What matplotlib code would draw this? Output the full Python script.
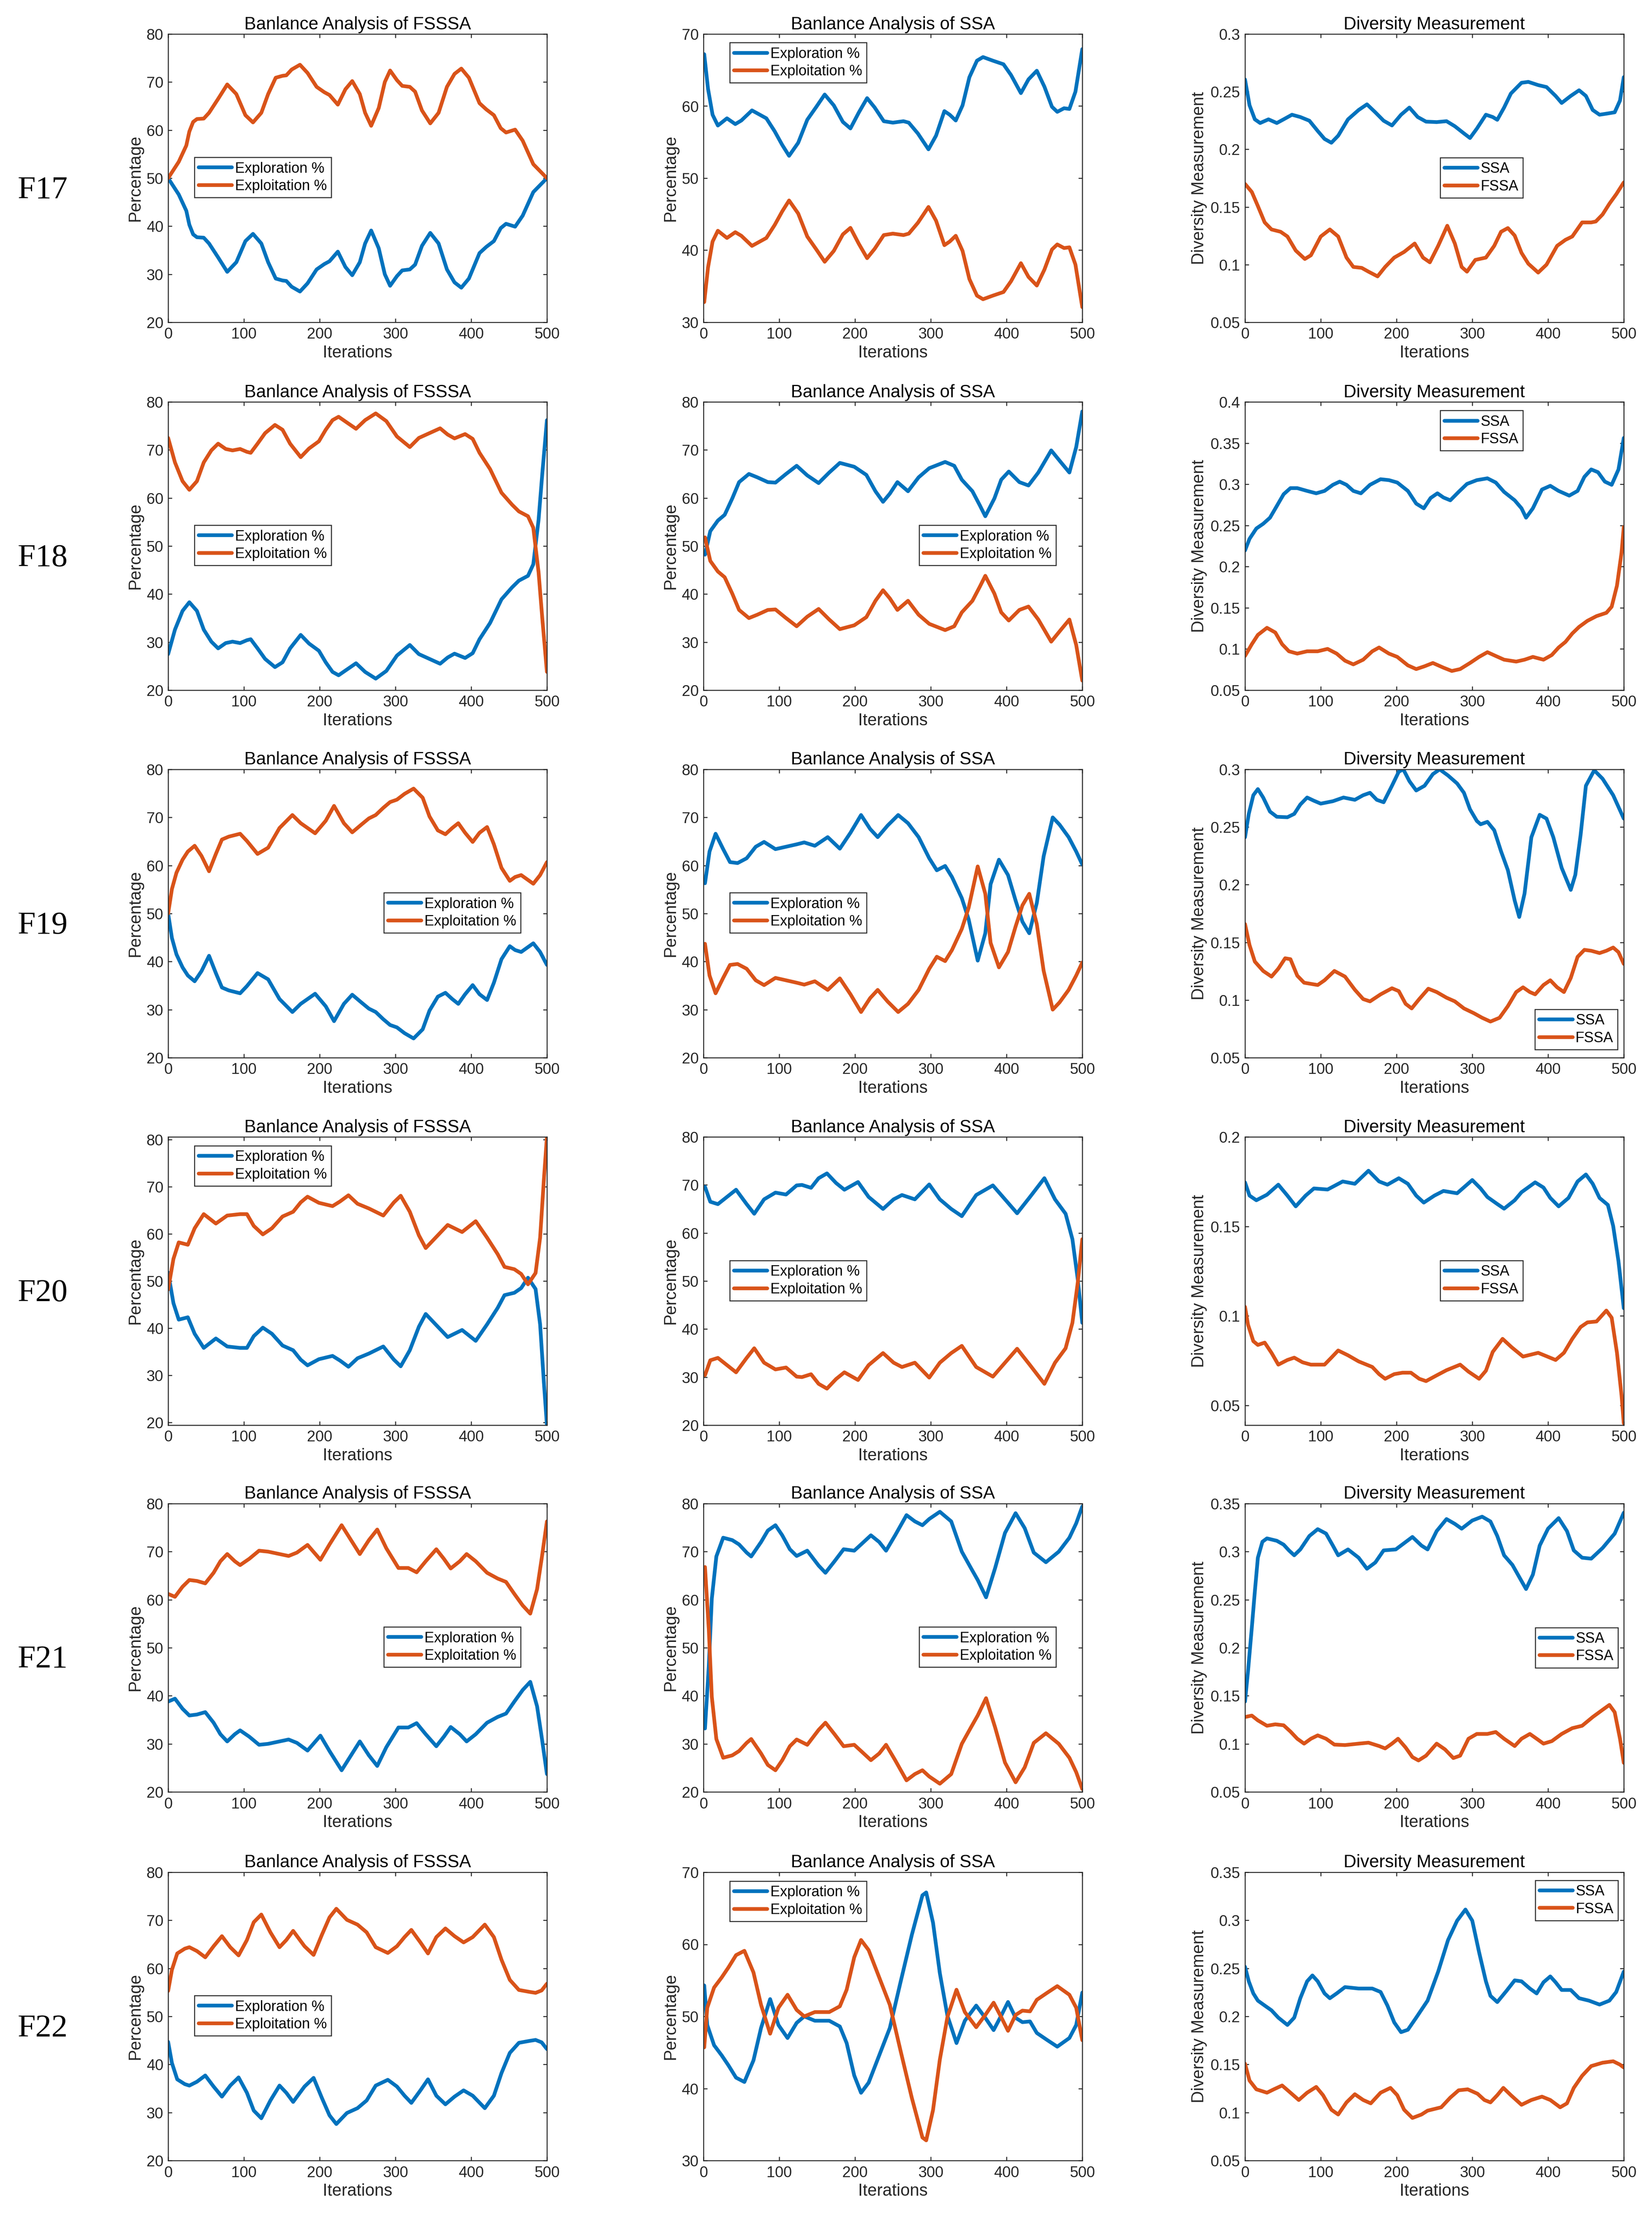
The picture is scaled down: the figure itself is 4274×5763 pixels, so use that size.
import matplotlib
matplotlib.use('Agg')
import matplotlib.pyplot as plt
import numpy as np

plt.rcParams['font.family'] = ['Liberation Sans', 'DejaVu Sans']
plt.rcParams['lines.solid_joinstyle'] = 'round'
plt.rcParams['lines.solid_capstyle'] = 'round'

# ---------------- data ----------------
func_names = ['F17', 'F18', 'F19', 'F20', 'F21', 'F22']

# F17
f17_fsssa_x = [0, 14, 24, 28, 33, 38, 47, 54, 66, 78, 90, 102, 112, 123, 132, 142, 151, 156, 163, 174,
               184, 196, 206, 213, 224, 234, 243, 253, 260, 268, 278, 286, 293, 302, 309, 319, 326, 335, 346, 357,
               368, 378, 387, 397, 411, 420, 430, 439, 446, 458, 468, 482, 500]
f17_fsssa_explore = [50.0, 46.6, 43.2, 40.3, 38.3, 37.7, 37.6, 36.4, 33.5, 30.5, 32.5, 36.9, 38.4, 36.4, 32.5, 29.1, 28.7, 28.6, 27.4, 26.4,
                     28.1, 31.0, 32.1, 32.7, 34.7, 31.5, 29.8, 32.5, 36.4, 39.1, 35.4, 30.0, 27.6, 29.6, 30.8, 31.0, 32.0, 35.9, 38.6, 36.4,
                     31.0, 28.3, 27.2, 29.1, 34.4, 35.7, 36.9, 39.6, 40.5, 39.9, 42.2, 47.1, 50.0]
f17_fsssa_exploit = [50.0, 53.4, 56.8, 59.7, 61.7, 62.3, 62.4, 63.6, 66.5, 69.5, 67.5, 63.1, 61.6, 63.6, 67.5, 70.9, 71.3, 71.4, 72.6, 73.6,
                     71.9, 69.0, 67.9, 67.3, 65.3, 68.5, 70.2, 67.5, 63.6, 60.9, 64.6, 70.0, 72.4, 70.4, 69.2, 69.0, 68.0, 64.1, 61.4, 63.6,
                     69.0, 71.7, 72.8, 70.9, 65.6, 64.3, 63.1, 60.4, 59.5, 60.1, 57.8, 52.9, 50.0]
f17_ssa_x = [1, 6, 12, 19, 31, 42, 50, 64, 83, 94, 104, 113, 125, 137, 149, 160, 172, 184, 194, 205,
             216, 226, 238, 250, 264, 271, 283, 297, 307, 318, 325, 333, 342, 351, 361, 369, 382, 396, 406, 419,
             429, 440, 450, 460, 467, 476, 483, 491, 500]
f17_ssa_explore = [67.2, 62.4, 58.8, 57.3, 58.3, 57.5, 58.0, 59.4, 58.3, 56.5, 54.6, 53.1, 54.9, 58.1, 59.9, 61.6, 60.1, 57.8, 56.9, 59.1,
                   61.1, 59.8, 57.9, 57.7, 57.9, 57.7, 56.2, 54.0, 55.9, 59.3, 58.8, 58.0, 60.1, 64.0, 66.3, 66.8, 66.3, 65.8, 64.3, 61.8,
                   63.7, 64.9, 62.7, 59.9, 59.2, 59.7, 59.6, 62.0, 67.9]
f17_ssa_exploit = [32.8, 37.6, 41.2, 42.7, 41.7, 42.5, 42.0, 40.6, 41.7, 43.5, 45.4, 46.9, 45.1, 41.9, 40.1, 38.4, 39.9, 42.2, 43.1, 40.9,
                   38.9, 40.2, 42.1, 42.3, 42.1, 42.3, 43.8, 46.0, 44.1, 40.7, 41.2, 42.0, 39.9, 36.0, 33.7, 33.2, 33.7, 34.2, 35.7, 38.2,
                   36.3, 35.1, 37.3, 40.1, 40.8, 40.3, 40.4, 38.0, 32.1]
f17_div_ssa_x = [0, 6, 13, 20, 31, 42, 51, 62, 73, 85, 96, 105, 114, 123, 136, 150, 161, 172, 183, 194,
                 206, 217, 228, 239, 253, 266, 277, 289, 297, 306, 318, 327, 333, 342, 351, 365, 374, 387, 398, 410,
                 418, 430, 441, 450, 459, 468, 477, 488, 495, 500]
f17_div_ssa = [.2606, .2382, .226, .2228, .226, .2228, .226, .230, .228, .2248, .2159, .209, .2057, .2118, .226, .2341, .239, .2321, .2248, .2207,
               .230, .2362, .228, .224, .2236, .2244, .220, .2138, .2098, .2179, .230, .228, .2256, .2362, .2484, .2577, .2585, .2557, .254, .2463,
               .2402, .2463, .2512, .2463, .2341, .230, .2309, .2321, .2423, .2626]
f17_div_fssa_x = [0, 9, 17, 26, 35, 47, 56, 67, 79, 87, 100, 112, 123, 134, 143, 154, 163, 175, 185, 197,
                  210, 224, 235, 244, 255, 267, 277, 286, 293, 304, 318, 329, 338, 347, 356, 365, 374, 387, 398, 412,
                  423, 432, 445, 457, 463, 472, 481, 490, 500]
f17_div_fssa = [.170, .163, .1508, .1366, .1305, .1285, .1244, .1122, .1049, .1081, .1244, .1305, .1244, .1061, .098, .0972, .0939, .0898, .098, .1061,
                .111, .1183, .1061, .102, .1163, .1337, .1183, .098, .0939, .1041, .1061, .1163, .1285, .1317, .1252, .1102, .1008, .0931, .1, .1163,
                .1215, .1244, .1366, .1366, .1374, .1435, .1528, .161, .1713]

# F18
f18_fsssa_x = [0, 9, 19, 28, 38, 47, 57, 66, 76, 85, 95, 104, 109, 118, 128, 141, 151, 161, 175, 186,
               199, 208, 217, 225, 236, 248, 260, 274, 288, 302, 319, 331, 345, 359, 369, 378, 392, 402, 411, 425,
               440, 454, 463, 475, 482, 489, 494, 500]
f18_fsssa_explore = [27.5, 32.6, 36.5, 38.3, 36.5, 32.6, 30.1, 28.7, 29.8, 30.1, 29.8, 30.4, 30.6, 28.7, 26.5, 24.8, 25.8, 28.7, 31.5, 29.7,
                     28.2, 25.8, 23.8, 23.1, 24.3, 25.6, 23.8, 22.4, 24.0, 27.2, 29.4, 27.5, 26.5, 25.5, 26.8, 27.6, 26.7, 27.7, 30.6, 34.0,
                     38.9, 41.4, 42.8, 43.8, 46.2, 55.5, 65.3, 76.2]
f18_fsssa_exploit = [72.5, 67.4, 63.5, 61.7, 63.5, 67.4, 69.9, 71.3, 70.2, 69.9, 70.2, 69.6, 69.4, 71.3, 73.5, 75.2, 74.2, 71.3, 68.5, 70.3,
                     71.8, 74.2, 76.2, 76.9, 75.7, 74.4, 76.2, 77.6, 76.0, 72.8, 70.6, 72.5, 73.5, 74.5, 73.2, 72.4, 73.3, 72.3, 69.4, 66.0,
                     61.1, 58.6, 57.2, 56.2, 53.8, 44.5, 34.7, 23.8]
f18_ssa_x = [2, 9, 19, 28, 38, 47, 60, 71, 85, 95, 109, 123, 137, 152, 166, 180, 199, 215, 227, 237,
             246, 256, 270, 284, 298, 319, 331, 341, 355, 365, 372, 384, 393, 403, 417, 429, 442, 459, 473, 483,
             492, 500]
f18_ssa_explore = [48.2, 53.1, 55.3, 56.5, 59.9, 63.3, 65.0, 64.3, 63.3, 63.2, 65.0, 66.7, 64.7, 63.1, 65.3, 67.3, 66.5, 64.8, 61.4, 59.2,
                   60.9, 63.3, 61.4, 64.3, 66.2, 67.5, 66.7, 63.8, 61.4, 58.4, 56.2, 59.9, 63.8, 65.5, 63.3, 62.6, 65.3, 69.9, 67.2, 65.3,
                   70.6, 78.0]
f18_ssa_exploit = [51.8, 46.9, 44.7, 43.5, 40.1, 36.7, 35.0, 35.7, 36.7, 36.8, 35.0, 33.3, 35.3, 36.9, 34.7, 32.7, 33.5, 35.2, 38.6, 40.8,
                   39.1, 36.7, 38.6, 35.7, 33.8, 32.5, 33.3, 36.2, 38.6, 41.6, 43.8, 40.1, 36.2, 34.5, 36.7, 37.4, 34.7, 30.1, 32.8, 34.7,
                   29.4, 22.0]
f18_div_ssa_x = [0, 6, 15, 24, 33, 42, 51, 60, 69, 82, 94, 105, 116, 125, 134, 143, 153, 165, 179, 190,
                 201, 215, 226, 236, 245, 254, 262, 271, 282, 293, 306, 320, 331, 342, 356, 365, 371, 380, 392, 403,
                 414, 428, 439, 448, 457, 466, 475, 484, 493, 500]
f18_div_ssa = [.2196, .2338, .2463, .252, .2594, .2736, .2879, .2953, .2953, .2919, .289, .2919, .2993, .3032, .2993, .2919, .289, .2993, .3061, .305,
               .3021, .2919, .2765, .2708, .2833, .289, .2839, .2805, .2907, .3004, .305, .3072, .3021, .2907, .2805, .2708, .2594, .2708, .2936, .2981,
               .2919, .2862, .2919, .309, .318, .3146, .3032, .2993, .318, .3562]
f18_div_fssa_x = [0, 9, 17, 29, 40, 49, 58, 69, 82, 96, 109, 121, 132, 143, 156, 168, 177, 190, 201, 215,
                  226, 237, 248, 262, 273, 284, 297, 309, 320, 331, 342, 358, 369, 380, 394, 405, 414, 423, 432, 441,
                  452, 464, 477, 484, 491, 497, 500]
f18_div_fssa = [.0915, .1058, .1171, .1257, .12, .1058, .0972, .0944, .0972, .0972, .1001, .0944, .0858, .0813, .087, .0972, .1018, .0944, .0904, .0801,
                .0756, .079, .083, .0773, .0733, .0756, .083, .0904, .0961, .0915, .087, .0847, .087, .0904, .087, .0927, .1018, .1086, .1188, .1268,
                .1342, .1399, .1439, .1513, .1769, .2167, .248]

# F19
f19_fsssa_x = [0, 5, 11, 19, 26, 35, 44, 54, 63, 71, 80, 95, 104, 118, 132, 147, 164, 175, 194, 208,
               219, 232, 243, 255, 265, 274, 284, 293, 302, 312, 324, 336, 345, 356, 366, 375, 383, 392, 402, 411,
               421, 430, 440, 451, 458, 466, 482, 491, 500]
f19_fsssa_explore = [50.0, 44.9, 41.5, 38.8, 37.1, 35.9, 38.0, 41.2, 37.6, 34.6, 34.0, 33.4, 34.9, 37.6, 36.3, 32.2, 29.5, 31.2, 33.3, 30.7,
                     27.6, 31.2, 33.1, 31.5, 30.2, 29.5, 28.0, 26.8, 26.3, 25.1, 24.0, 25.9, 29.8, 32.7, 33.5, 32.2, 31.2, 33.2, 35.1, 33.2,
                     32.0, 35.6, 40.5, 43.2, 42.4, 42.0, 43.8, 42.0, 39.3]
f19_fsssa_exploit = [50.0, 55.1, 58.5, 61.2, 62.9, 64.1, 62.0, 58.8, 62.4, 65.4, 66.0, 66.6, 65.1, 62.4, 63.7, 67.8, 70.5, 68.8, 66.7, 69.3,
                     72.4, 68.8, 66.9, 68.5, 69.8, 70.5, 72.0, 73.2, 73.7, 74.9, 76.0, 74.1, 70.2, 67.3, 66.5, 67.8, 68.8, 66.8, 64.9, 66.8,
                     68.0, 64.4, 59.5, 56.8, 57.6, 58.0, 56.2, 58.0, 60.7]
f19_ssa_x = [2, 8, 16, 26, 35, 45, 57, 69, 80, 95, 109, 123, 133, 147, 164, 180, 194, 208, 220, 230,
             243, 257, 270, 284, 298, 308, 319, 328, 341, 350, 362, 372, 379, 390, 402, 412, 421, 430, 440, 449,
             461, 470, 482, 492, 500]
f19_ssa_explore = [56.3, 62.9, 66.6, 63.4, 60.7, 60.5, 61.5, 63.9, 64.9, 63.4, 63.9, 64.4, 64.8, 64.1, 65.9, 63.5, 66.8, 70.5, 67.6, 65.9,
                   68.3, 70.5, 68.8, 65.9, 61.5, 59.0, 59.9, 57.6, 53.2, 48.8, 40.2, 45.9, 56.1, 61.2, 58.0, 52.7, 48.3, 45.9, 52.2, 61.9,
                   70.0, 68.5, 65.9, 62.9, 60.2]
f19_ssa_exploit = [43.7, 37.1, 33.4, 36.6, 39.3, 39.5, 38.5, 36.1, 35.1, 36.6, 36.1, 35.6, 35.2, 35.9, 34.1, 36.5, 33.2, 29.5, 32.4, 34.1,
                   31.7, 29.5, 31.2, 34.1, 38.5, 41.0, 40.1, 42.4, 46.8, 51.2, 59.8, 54.1, 43.9, 38.8, 42.0, 47.3, 51.7, 54.1, 47.8, 38.1,
                   30.0, 31.5, 34.1, 37.1, 39.8]
f19_div_ssa_x = [0, 5, 11, 17, 24, 33, 42, 56, 65, 73, 82, 91, 100, 116, 130, 145, 156, 165, 174, 183,
                 194, 203, 209, 217, 226, 237, 248, 257, 268, 280, 289, 297, 306, 311, 320, 329, 338, 347, 356, 362,
                 369, 378, 389, 398, 407, 418, 430, 436, 443, 450, 461, 472, 486, 500]
f19_div_ssa = [.2411, .2614, .2776, .2829, .2756, .2634, .2589, .2585, .2614, .2695, .2756, .2728, .2703, .2724, .2756, .2736, .2776, .2797, .2736, .2715,
               .2858, .298, .300, .2898, .2817, .2858, .2959, .300, .2947, .2878, .2797, .2654, .2553, .2524, .2545, .2472, .2289, .2126, .1862, .172,
               .1923, .2411, .2606, .2573, .2411, .2146, .1955, .2085, .2431, .2858, .2992, .2919, .2776, .2573]
f19_div_fssa_x = [0, 6, 13, 24, 35, 44, 53, 60, 69, 78, 96, 105, 118, 132, 145, 156, 165, 179, 194, 203,
                  212, 220, 230, 242, 253, 266, 277, 289, 302, 313, 324, 336, 347, 358, 367, 376, 383, 394, 403, 412,
                  421, 430, 439, 448, 457, 468, 477, 486, 493, 500]
f19_div_fssa = [.1659, .1476, .1333, .1252, .1203, .1272, .1362, .1354, .1211, .115, .113, .1171, .1252, .1203, .1089, .1008, .0988, .1049, .1102, .1077,
                .0967, .0927, .1008, .1098, .1069, .102, .0988, .0927, .0886, .0846, .0813, .0846, .0947, .1069, .111, .1069, .1049, .113, .1171, .111,
                .1069, .1191, .1374, .1435, .1427, .1407, .1427, .1455, .1415, .1313]

# F20
f20_fsssa_x = [0, 7, 14, 26, 35, 47, 63, 78, 95, 104, 113, 125, 137, 151, 165, 175, 184, 199, 217, 227,
               238, 250, 265, 284, 298, 307, 319, 331, 340, 353, 369, 388, 406, 421, 435, 444, 457, 466, 475, 485,
               491, 496, 500]
f20_fsssa_explore = [51.8, 45.3, 41.8, 42.3, 38.8, 35.8, 37.8, 36.1, 35.8, 35.8, 38.3, 40.1, 38.8, 36.3, 35.3, 33.3, 32.1, 33.4, 34.1, 33.1,
                     31.8, 33.6, 34.6, 36.1, 33.3, 31.9, 35.3, 40.3, 43.0, 40.8, 38.1, 39.6, 37.3, 40.8, 44.3, 47.0, 47.5, 48.5, 50.7, 48.3,
                     40.8, 28.4, 19.4]
f20_fsssa_exploit = [48.2, 54.7, 58.2, 57.7, 61.2, 64.2, 62.2, 63.9, 64.2, 64.2, 61.7, 59.9, 61.2, 63.7, 64.7, 66.7, 67.9, 66.6, 65.9, 66.9,
                     68.2, 66.4, 65.4, 63.9, 66.7, 68.1, 64.7, 59.7, 57.0, 59.2, 61.9, 60.4, 62.7, 59.2, 55.7, 53.0, 52.5, 51.5, 49.3, 51.7,
                     59.2, 71.6, 80.6]
f20_ssa_x = [2, 9, 19, 31, 43, 57, 67, 80, 95, 109, 123, 130, 142, 152, 163, 175, 186, 204, 218, 237,
             251, 262, 279, 298, 312, 327, 341, 360, 382, 398, 414, 431, 450, 464, 478, 487, 494, 500]
f20_ssa_explore = [69.6, 66.5, 66.0, 67.5, 69.0, 66.0, 64.0, 67.0, 68.4, 68.0, 69.9, 70.0, 69.4, 71.4, 72.4, 70.4, 69.0, 70.6, 67.5, 65.0,
                   67.0, 67.9, 67.0, 70.1, 67.0, 65.0, 63.5, 67.9, 69.9, 67.0, 64.1, 67.5, 71.4, 67.0, 64.0, 58.7, 50.4, 41.3]
f20_ssa_exploit = [30.4, 33.5, 34.0, 32.5, 31.0, 34.0, 36.0, 33.0, 31.6, 32.0, 30.1, 30.0, 30.6, 28.6, 27.6, 29.6, 31.0, 29.4, 32.5, 35.0,
                   33.0, 32.1, 33.0, 29.9, 33.0, 35.0, 36.5, 32.1, 30.1, 33.0, 35.9, 32.5, 28.6, 33.0, 36.0, 41.3, 49.6, 58.7]
f20_div_ssa_x = [0, 6, 15, 29, 44, 56, 67, 80, 91, 109, 129, 145, 163, 177, 188, 203, 215, 226, 236, 250,
                 262, 280, 300, 311, 320, 333, 342, 356, 365, 383, 394, 403, 414, 427, 439, 450, 459, 468, 479, 486,
                 493, 500]
f20_div_ssa = [.1746, .1672, .1646, .1677, .1733, .1672, .1612, .1672, .1712, .1706, .1751, .1738, .1811, .1751, .1733, .1769, .1738, .1672, .1633, .1672,
               .1698, .1685, .1759, .1712, .1664, .1625, .1599, .1646, .1691, .1746, .1717, .1659, .1612, .1659, .1751, .179, .1738, .1659, .162, .1502,
               .1305, .1043]
f20_div_fssa_x = [0, 4, 11, 17, 26, 35, 44, 56, 65, 76, 87, 105, 114, 123, 136, 150, 168, 177, 185, 197,
                  208, 219, 230, 239, 253, 266, 284, 295, 309, 318, 327, 340, 352, 367, 387, 398, 410, 421, 432, 443,
                  452, 464, 477, 484, 491, 497, 500]
f20_div_fssa = [.1051, .0951, .0859, .0838, .0851, .0794, .0728, .0754, .0767, .0741, .0728, .0728, .0767, .0807, .078, .0746, .0715, .0675, .0649, .0675,
                .0683, .0683, .0649, .0636, .0668, .0697, .0728, .0689, .0649, .0694, .0799, .0872, .0825, .0773, .0794, .0775, .0754, .0794, .0872, .0938,
                .0964, .0969, .103, .099, .0794, .0558, .040]

# F21
f21_fsssa_x = [0, 9, 19, 28, 38, 49, 60, 69, 78, 88, 95, 107, 120, 132, 147, 159, 170, 184, 201, 213,
               229, 243, 253, 265, 276, 288, 304, 317, 328, 340, 354, 364, 373, 385, 394, 406, 421, 435, 446, 457,
               468, 478, 487, 493, 500]
f21_fsssa_explore = [38.8, 39.4, 37.3, 35.9, 36.1, 36.6, 34.4, 32.0, 30.5, 32.0, 32.8, 31.5, 29.8, 30.0, 30.5, 30.9, 30.2, 28.6, 31.7, 28.5,
                     24.5, 28.0, 30.5, 27.6, 25.4, 29.3, 33.4, 33.4, 34.3, 32.0, 29.5, 31.5, 33.5, 32.0, 30.5, 32.0, 34.4, 35.6, 36.3, 38.8,
                     41.2, 42.9, 37.8, 31.5, 23.7]
f21_fsssa_exploit = [61.2, 60.6, 62.7, 64.1, 63.9, 63.4, 65.6, 68.0, 69.5, 68.0, 67.2, 68.5, 70.2, 70.0, 69.5, 69.1, 69.8, 71.4, 68.3, 71.5,
                     75.5, 72.0, 69.5, 72.4, 74.6, 70.7, 66.6, 66.6, 65.7, 68.0, 70.5, 68.5, 66.5, 68.0, 69.5, 68.0, 65.6, 64.4, 63.7, 61.2,
                     58.8, 57.1, 62.2, 68.5, 76.3]
f21_ssa_x = [2, 7, 11, 17, 26, 38, 47, 57, 63, 76, 85, 95, 104, 114, 123, 137, 152, 161, 173, 185,
             199, 208, 221, 232, 241, 253, 268, 279, 289, 298, 312, 327, 341, 353, 362, 373, 385, 398, 412, 424,
             436, 452, 469, 483, 492, 500]
f21_ssa_explore = [33.2, 46.1, 60.2, 69.0, 72.9, 72.4, 71.5, 69.8, 69.0, 72.0, 74.4, 75.5, 73.4, 70.5, 69.1, 70.2, 67.1, 65.6, 68.0, 70.5,
                   70.2, 71.5, 73.4, 72.0, 70.2, 73.4, 77.6, 76.3, 75.5, 76.8, 78.3, 76.3, 70.0, 66.6, 64.1, 60.5, 66.6, 73.9, 78.0, 74.9,
                   69.8, 67.8, 70.0, 72.9, 75.9, 79.4]
f21_ssa_exploit = [66.8, 53.9, 39.8, 31.0, 27.1, 27.6, 28.5, 30.2, 31.0, 28.0, 25.6, 24.5, 26.6, 29.5, 30.9, 29.8, 32.9, 34.4, 32.0, 29.5,
                   29.8, 28.5, 26.6, 28.0, 29.8, 26.6, 22.4, 23.7, 24.5, 23.2, 21.7, 23.7, 30.0, 33.4, 35.9, 39.5, 33.4, 26.1, 22.0, 25.1,
                   30.2, 32.2, 30.0, 27.1, 24.1, 20.6]
f21_div_ssa_x = [0, 4, 9, 13, 17, 23, 29, 42, 51, 58, 65, 73, 85, 96, 107, 116, 123, 136, 150, 161,
                 172, 183, 199, 210, 221, 233, 241, 253, 266, 277, 286, 300, 313, 324, 333, 342, 353, 362, 371, 380,
                 389, 400, 414, 425, 434, 445, 457, 472, 488, 500]
f21_div_ssa = [.144, .1756, .2209, .2585, .2937, .3103, .3138, .3113, .3073, .3013, .2962, .3023, .3163, .3234, .3188, .3063, .2962, .3023, .2937, .2822,
               .2887, .3013, .3023, .3088, .3153, .3063, .3023, .3214, .3339, .3289, .3239, .3324, .3364, .3314, .3163, .2962, .2862, .2736, .2611, .2761,
               .3063, .3239, .3349, .3214, .3013, .2937, .2927, .3038, .3188, .3405]
f21_div_fssa_x = [0, 9, 17, 29, 40, 51, 60, 69, 78, 87, 96, 107, 118, 132, 150, 163, 177, 185, 194, 202,
                  212, 221, 229, 239, 253, 264, 275, 284, 295, 306, 320, 331, 342, 356, 365, 376, 385, 394, 405, 418,
                  432, 445, 459, 472, 481, 488, 495, 500]
f21_div_fssa = [.1279, .1294, .1244, .1188, .1203, .1193, .1128, .1053, .1002, .1053, .1088, .1053, .0992, .0987, .1002, .1012, .0977, .0952, .1002, .1053,
                .0962, .0862, .0827, .0877, .1002, .0942, .0852, .0877, .1053, .1103, .1103, .1123, .1053, .0977, .1053, .1103, .1053, .1002, .1028, .1103,
                .1163, .1188, .1279, .1354, .1405, .1329, .1053, .0802]

# F22
f22_fsssa_x = [0, 5, 12, 22, 28, 38, 49, 60, 71, 82, 93, 104, 113, 123, 135, 147, 156, 165, 180, 192,
               203, 213, 222, 236, 250, 262, 274, 290, 302, 312, 321, 333, 343, 354, 366, 378, 390, 402, 418, 430,
               440, 451, 463, 477, 485, 493, 500]
f22_fsssa_explore = [44.7, 40.3, 36.9, 35.9, 35.6, 36.4, 37.7, 35.4, 33.3, 35.6, 37.3, 34.1, 30.4, 28.8, 32.5, 35.6, 34.1, 32.2, 35.4, 37.2,
                     33.0, 29.4, 27.6, 29.9, 30.9, 32.5, 35.6, 36.8, 35.4, 33.5, 32.0, 34.6, 36.9, 33.5, 31.7, 33.3, 34.6, 33.5, 30.9, 33.5,
                     38.2, 42.4, 44.5, 44.9, 45.1, 44.6, 43.2]
f22_fsssa_exploit = [55.3, 59.7, 63.1, 64.1, 64.4, 63.6, 62.3, 64.6, 66.7, 64.4, 62.7, 65.9, 69.6, 71.2, 67.5, 64.4, 65.9, 67.8, 64.6, 62.8,
                     67.0, 70.6, 72.4, 70.1, 69.1, 67.5, 64.4, 63.2, 64.6, 66.5, 68.0, 65.4, 63.1, 66.5, 68.3, 66.7, 65.4, 66.5, 69.1, 66.5,
                     61.8, 57.6, 55.5, 55.1, 54.9, 55.4, 56.8]
f22_ssa_x = [1, 5, 14, 24, 33, 43, 54, 66, 76, 88, 99, 111, 123, 133, 147, 166, 180, 189, 199, 208,
             218, 232, 246, 260, 275, 289, 294, 303, 312, 322, 334, 345, 360, 372, 383, 393, 402, 412, 421, 431,
             440, 454, 467, 483, 492, 500]
f22_ssa_explore = [54.3, 48.8, 46.0, 44.6, 43.2, 41.5, 40.9, 43.9, 48.4, 52.4, 48.8, 47.0, 49.1, 50.0, 49.4, 49.4, 48.6, 46.3, 41.8, 39.4,
                   40.8, 44.6, 48.4, 54.7, 61.3, 66.8, 67.2, 63.0, 56.0, 50.1, 46.3, 49.4, 51.5, 49.8, 48.1, 50.1, 52.0, 49.8, 49.2, 49.3,
                   47.7, 46.7, 45.8, 47.0, 48.8, 53.3]
f22_ssa_exploit = [45.7, 51.2, 54.0, 55.4, 56.8, 58.5, 59.1, 56.1, 51.6, 47.6, 51.2, 53.0, 50.9, 50.0, 50.6, 50.6, 51.4, 53.7, 58.2, 60.6,
                   59.2, 55.4, 51.6, 45.3, 38.7, 33.2, 32.8, 37.0, 44.0, 49.9, 53.7, 50.6, 48.5, 50.2, 51.9, 49.9, 48.0, 50.2, 50.8, 50.7,
                   52.3, 53.3, 54.2, 53.0, 51.2, 46.7]
f22_div_ssa_x = [0, 5, 11, 17, 26, 35, 44, 56, 65, 73, 82, 89, 96, 105, 112, 121, 132, 150, 168, 179,
                 188, 197, 206, 215, 226, 241, 255, 268, 280, 291, 300, 309, 318, 324, 333, 345, 356, 365, 376, 385,
                 394, 403, 410, 418, 430, 441, 454, 468, 481, 490, 500]
f22_div_ssa = [.2517, .2365, .2239, .2164, .2113, .2063, .1987, .1911, .1987, .2189, .2365, .2426, .2365, .2239, .2189, .2239, .2305, .229, .229, .2254,
               .2113, .1937, .1836, .1861, .1987, .2164, .2466, .2794, .2996, .3112, .2996, .2668, .2365, .2214, .2149, .2264, .2375, .2365, .229, .2239,
               .2355, .2416, .2355, .2275, .2275, .2189, .2164, .2123, .2164, .2254, .2466]
f22_div_fssa_x = [0, 6, 15, 29, 38, 49, 60, 71, 82, 94, 103, 114, 123, 134, 145, 156, 166, 179, 192, 201,
                  210, 221, 233, 241, 259, 271, 282, 294, 307, 316, 324, 333, 341, 351, 365, 378, 392, 403, 416, 425,
                  434, 445, 457, 472, 486, 495, 500]
f22_div_fssa = [.1508, .1332, .1241, .1206, .1241, .1281, .1206, .113, .1206, .1266, .118, .1029, .0979, .1105, .119, .113, .1095, .1206, .1256, .118,
                .1029, .0943, .0979, .1019, .1054, .1155, .1231, .1241, .1195, .113, .1105, .118, .1256, .118, .108, .113, .1165, .113, .1054, .1095,
                .1256, .1382, .1483, .1518, .1533, .1498, .1468]

# ---------------- layout / style ----------------
BLUE = '#0072BD'
ORANGE = '#D95319'
AXC = '#262626'
LW = 2.3

W, H = 4274, 5763
col_left = [435, 1820, 3221]
col_w = 980
row_top = [88, 1040, 1991, 2942, 3891, 4845]
row_h = 746

balance_fsssa = [
    (f17_fsssa_x, f17_fsssa_explore, f17_fsssa_exploit, (20, 80), (0.069, 0.572)),
    (f18_fsssa_x, f18_fsssa_explore, f18_fsssa_exploit, (20, 80), (0.069, 0.572)),
    (f19_fsssa_x, f19_fsssa_explore, f19_fsssa_exploit, (20, 80), (0.569, 0.572)),
    (f20_fsssa_x, f20_fsssa_explore, f20_fsssa_exploit, (19.4, 80.6), (0.069, 0.969)),
    (f21_fsssa_x, f21_fsssa_explore, f21_fsssa_exploit, (20, 80), (0.569, 0.572)),
    (f22_fsssa_x, f22_fsssa_explore, f22_fsssa_exploit, (20, 80), (0.069, 0.572)),
]
balance_ssa = [
    (f17_ssa_x, f17_ssa_explore, f17_ssa_exploit, (30, 70), (0.069, 0.97)),
    (f18_ssa_x, f18_ssa_explore, f18_ssa_exploit, (20, 80), (0.569, 0.572)),
    (f19_ssa_x, f19_ssa_explore, f19_ssa_exploit, (20, 80), (0.069, 0.572)),
    (f20_ssa_x, f20_ssa_explore, f20_ssa_exploit, (20, 80), (0.069, 0.571)),
    (f21_ssa_x, f21_ssa_explore, f21_ssa_exploit, (20, 80), (0.569, 0.572)),
    (f22_ssa_x, f22_ssa_explore, f22_ssa_exploit, (30, 70), (0.069, 0.969)),
]
diversity = [
    (f17_div_ssa_x, f17_div_ssa, f17_div_fssa_x, f17_div_fssa, (0.05, 0.3), ('upper left', (0.515, 0.571))),
    (f18_div_ssa_x, f18_div_ssa, f18_div_fssa_x, f18_div_fssa, (0.05, 0.4), ('upper left', (0.515, 0.97))),
    (f19_div_ssa_x, f19_div_ssa, f19_div_fssa_x, f19_div_fssa, (0.05, 0.3), ('lower right', (0.984, 0.028))),
    (f20_div_ssa_x, f20_div_ssa, f20_div_fssa_x, f20_div_fssa, (0.039, 0.2), ('upper left', (0.515, 0.571))),
    (f21_div_ssa_x, f21_div_ssa, f21_div_fssa_x, f21_div_fssa, (0.05, 0.35), ('upper left', (0.766, 0.57))),
    (f22_div_ssa_x, f22_div_ssa, f22_div_fssa_x, f22_div_fssa, (0.05, 0.35), ('upper left', (0.766, 0.972))),
]


def make_axes(fig, r, c):
    l = col_left[c] / W
    b = 1 - (row_top[r] + row_h) / H
    return fig.add_axes([l, b, col_w / W, row_h / H])


def style_axes(ax, ylim, step, ylabel, title):
    ax.set_xlim(0, 500)
    ax.set_ylim(*ylim)
    ax.set_xticks(range(0, 501, 100))
    first = np.ceil(ylim[0] / step - 1e-6) * step
    ticks = [round(v, 4) for v in np.arange(first, ylim[1] + step / 2, step)]
    ax.set_yticks(ticks)
    ax.set_yticklabels([f'{t:g}' for t in ticks])
    ax.tick_params(direction='in', top=True, right=True, length=2.5, width=0.6,
                   colors=AXC, labelsize=9.5, pad=3)
    for s in ax.spines.values():
        s.set_color(AXC)
        s.set_linewidth(0.6)
    ax.set_xlabel('Iterations', fontsize=10.5, color=AXC, labelpad=2)
    ax.set_ylabel(ylabel, fontsize=10.5, color=AXC, labelpad=2)
    ax.set_title(title, fontsize=11, pad=3)


def add_legend(ax, loc, anchor):
    leg = ax.legend(loc=loc, bbox_to_anchor=anchor, borderaxespad=0, fontsize=9,
                    fancybox=False, framealpha=1, edgecolor=AXC, borderpad=0.3,
                    labelspacing=0.25, handlelength=2.3, handletextpad=0.2)
    leg.get_frame().set_linewidth(0.6)


fig = plt.figure(figsize=(W / 300, H / 300), dpi=300)

for r, name in enumerate(func_names):
    # FSSSA balance
    x, e1, e2, ylim, anchor = balance_fsssa[r]
    ax = make_axes(fig, r, 0)
    ax.plot(x, e1, color=BLUE, lw=LW, label='Exploration %')
    ax.plot(x, e2, color=ORANGE, lw=LW, label='Exploitation %')
    style_axes(ax, ylim, 10, 'Percentage', 'Banlance Analysis of FSSSA')
    add_legend(ax, 'upper left', anchor)

    # SSA balance
    x, e1, e2, ylim, anchor = balance_ssa[r]
    ax = make_axes(fig, r, 1)
    ax.plot(x, e1, color=BLUE, lw=LW, label='Exploration %')
    ax.plot(x, e2, color=ORANGE, lw=LW, label='Exploitation %')
    style_axes(ax, ylim, 10, 'Percentage', 'Banlance Analysis of SSA')
    add_legend(ax, 'upper left', anchor)

    # diversity
    xs, ds, xf, dfs, ylim, (loc, anchor) = diversity[r]
    ax = make_axes(fig, r, 2)
    ax.plot(xs, ds, color=BLUE, lw=LW, label='SSA')
    ax.plot(xf, dfs, color=ORANGE, lw=LW, label='FSSA')
    style_axes(ax, ylim, 0.05, 'Diversity Measurement', 'Diversity Measurement')
    add_legend(ax, loc, anchor)

    # row label
    yc = 1 - (row_top[r] + row_h / 2 + 32) / H
    fig.text(110 / W, yc, name, fontsize=20, family=['Liberation Serif', 'DejaVu Serif'],
             ha='center', va='center')

fig.savefig('out.png', dpi=300)
